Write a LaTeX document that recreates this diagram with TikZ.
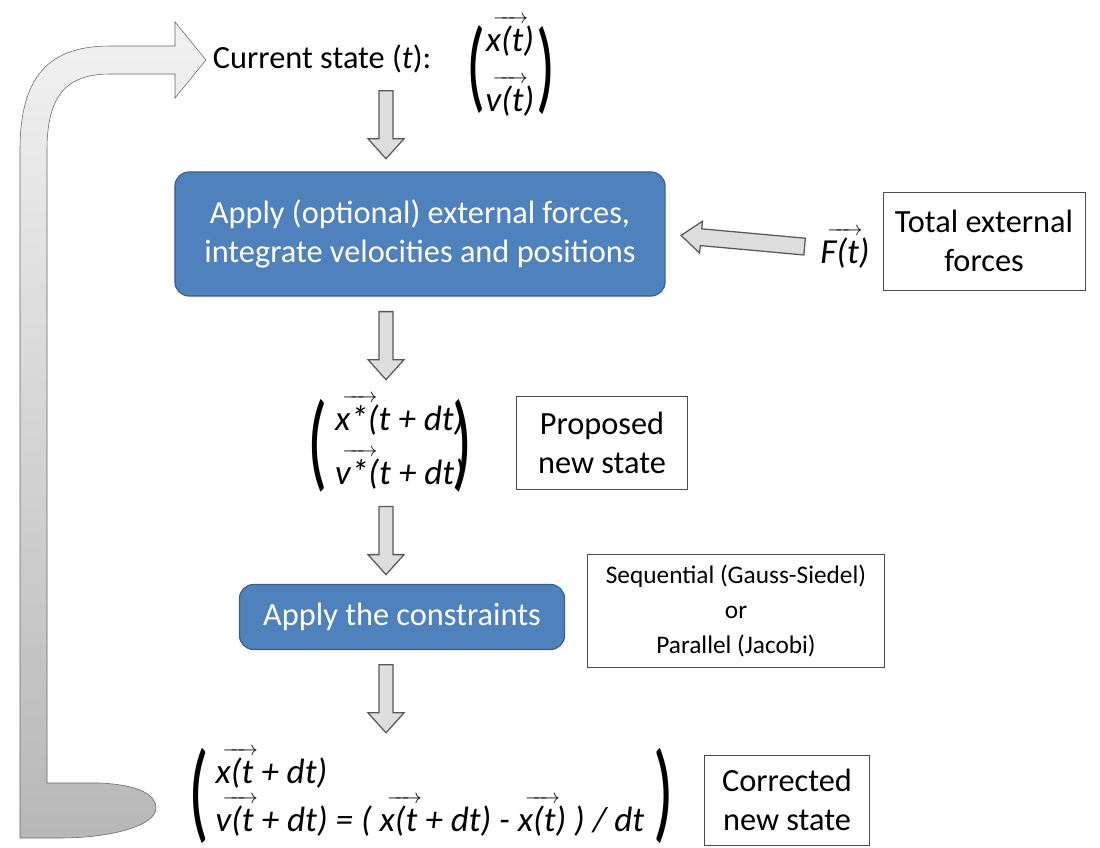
\documentclass[tikz,border=0pt]{standalone}
\usepackage{fontspec}
\setmainfont{Carlito}
\usetikzlibrary{positioning,calc}

\definecolor{boxblue}{HTML}{4F81BD}
\definecolor{boxedge}{HTML}{385D8A}
\newcommand\vt[2]{\leavevmode\rlap{\kern0.2em\raisebox{0.8em}{\makebox[1em][l]{\fontsize{14}{14}\selectfont\rightarrowfill}}}\textit{#1#2}}
\newcommand\bigparen[2]{{\fontsize{#1}{#1}\selectfont\scalebox{0.62}[1]{#2}}}

\begin{document}
\begin{tikzpicture}[x=0.025cm, y=-0.025cm,
    every node/.style={font=\fontsize{23}{28}\selectfont},
    bluebox/.style={draw=boxedge, thick, fill=boxblue, text=white, rounded corners=10pt, align=center},
    textbox/.style={draw=black!70, fill=white, align=center, inner sep=4pt},
    vecnode/.style={inner sep=0pt, font=\fontsize{25}{30}\selectfont},
    parnode/.style={inner sep=0pt},
    ahalf/.store in=\ahalf, ashaft/.store in=\ashaft, ahead/.store in=\ahead, ahw/.store in=\ahw,
    ahalf=0.85cm, ashaft=0.175cm, ahead=0.5cm, ahw=0.45cm,
    blkarrow/.style={draw=black!65, fill=black!13, line width=0.9pt, to path={
      let \p0=($(\tikztostart)!.5!(\tikztotarget)$),
          \p1=($(\p0)!\ahalf!(\tikztostart)$),
          \p2=($(\p0)!\ahalf!(\tikztotarget)$),
          \p3=($(\p2)!\ahead!(\p1)$) in
      ($(\p1)!\ashaft!90:(\p2)$) -- ($(\p3)!\ashaft!-90:(\p1)$) -- ($(\p3)!\ahw!-90:(\p1)$)
      -- (\p2) -- ($(\p3)!\ahw!90:(\p1)$) -- ($(\p3)!\ashaft!90:(\p1)$)
      -- ($(\p1)!\ashaft!-90:(\p2)$) -- cycle}}]
  \useasboundingbox (0,0) rectangle (1100,848);

  % loop arrow back to the start
  \draw[black!60, top color=black!5, bottom color=black!28]
    (20,838) -- (20,150) .. controls (20,75) and (50,46) .. (110,46) -- (175,46) -- (175,22)
    -- (206,60) -- (175,98) -- (175,74) -- (110,74) .. controls (66,74) and (47,96) .. (47,150)
    -- (47,783) -- (100,783) .. controls (140,785) and (156,795) .. (156,808)
    .. controls (156,826) and (110,838) .. (60,838) -- cycle;

  \node[anchor=west] (cur) at (208,59) {Current state (\textit{t}):};
  \node[vecnode] (xv) at (510,70) {\begin{tabular}{@{}c@{}}\vt{x}{(t)}\\[8pt]\vt{v}{(t)}\end{tabular}};
  \node[parnode, left=0pt of xv] (xvl) {\bigparen{72}{(}};
  \node[parnode, right=1pt of xv] (xvr) {\bigparen{72}{)}};

  \node[bluebox, minimum width=12.25cm, minimum height=3.1cm] (apply) at (420,234)
    {Apply (optional) external forces,\\integrate velocities and positions};
  \node[textbox, minimum width=5.05cm, minimum height=2.45cm] (ext) at (984,241)
    {Total external\\forces};
  \node[vecnode] (force) at (845,248) {\vt{F}{(t)}};

  \node[vecnode] (prop) at (400,446)
    {\begin{tabular}{@{}l@{}}\vt{x}{*(t + dt)}\\[4pt]\vt{v}{*(t + dt)}\end{tabular}};
  \node[parnode, left=5pt of prop] (propl) {\bigparen{76}{(}};
  \node[parnode, right=-9pt of prop] (propr) {\bigparen{76}{)}};
  \node[textbox, minimum width=4.275cm, minimum height=2.325cm] (propbox) at (602,443)
    {Proposed\\new state};

  \node[bluebox, minimum width=8.125cm, minimum height=1.625cm] (cons) at (402,617)
    {Apply the constraints};
  \node[textbox, minimum width=7.425cm, minimum height=2.825cm,
    font=\fontsize{18}{25}\selectfont] (method) at (736,611)
    {Sequential (Gauss-Siedel)\\or\\Parallel (Jacobi)};

  \node[vecnode] (corr) at (430,796)
    {\begin{tabular}{@{}l@{}}\vt{x}{(t + dt)}\\[0pt]\vt{v}{(t + dt) = ( }\vt{x}{(t + dt) - }\vt{x}{(t) ) / dt}\end{tabular}};
  \node[parnode, left=4pt of corr] (corrl) {\bigparen{78}{(}};
  \node[parnode, right=6pt of corr] (corrr) {\bigparen{78}{)}};
  \node[textbox, minimum width=4.125cm, minimum height=2.25cm] (corrbox) at (787,800)
    {Corrected\\new state};

  % block arrows between the steps
  \coordinate (ax) at (386,0);
  \draw[blkarrow] (cur.south -| ax) to (apply.north -| ax);
  \draw[blkarrow] (apply.south -| ax) to (prop.north -| ax);
  \draw[blkarrow] (prop.south -| ax) to (cons.north -| ax);
  \draw[blkarrow] (cons.south -| ax) to (corr.north -| ax);
  \draw[blkarrow, ahalf=1.55cm, ashaft=0.21cm, ahw=0.4cm] (force.west) to (apply.east);
\end{tikzpicture}
\end{document}
